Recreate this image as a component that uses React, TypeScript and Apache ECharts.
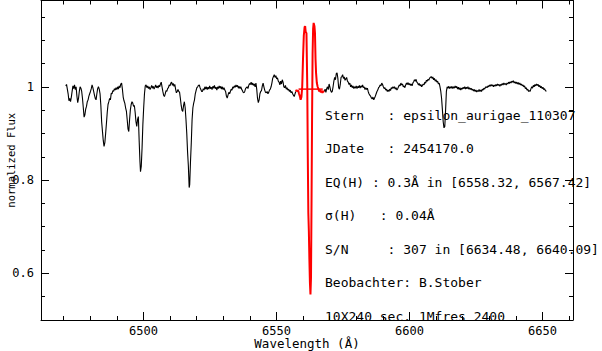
import React, { useEffect, useRef } from "react";
import * as echarts from "echarts";

// ---- axis definitions ----
const xMin = 6461.5;
const xMax = 6661.5;
const yMin = 0.5;
const yMax = 1.185;
const xMajorTicks = [6500, 6550, 6600, 6650];
const xMinorTicks = [6470, 6480, 6490, 6510, 6520, 6530, 6540, 6560, 6570, 6580, 6590, 6610, 6620, 6630, 6640, 6660];
const yMajorTicks = [0.6, 0.8, 1.0];
const yMinorTicks = [0.55, 0.65, 0.7, 0.75, 0.85, 0.9, 0.95, 1.05, 1.1, 1.15];

const xTitle = "Wavelength (Å)";
const yTitle = "normalized Flux";

const infoLines = [
  "Stern   : epsilon_aurigae_110307",
  "JDate   : 2454170.0",
  "EQ(H) : 0.3Å in [6558.32, 6567.42]",
  "σ(H)   : 0.04Å",
  "S/N     : 307 in [6634.48, 6640.09]",
  "Beobachter: B.Stober",
  "10X240 sec. 1Mfres 2400",
];

// ---- spectrum (wavelength Å, normalized flux) ----
const spectrumLeft: [number, number][] = [
  [6470.8,1.002],[6471.1,1.005],[6471.4,0.995],[6471.7,0.985],[6472.0,0.97],[6472.3,0.975],[6472.6,0.968],[6472.9,0.978],
  [6473.2,0.99],[6473.5,1.002],[6473.8,0.996],[6474.1,1.004],[6474.4,0.994],[6474.7,1.0],[6475.0,0.98],[6475.3,0.966],
  [6475.6,0.975],[6475.9,0.99],[6476.2,1.0],[6476.5,0.997],[6476.8,0.99],[6477.1,0.975],[6477.4,0.955],[6477.7,0.935],
  [6478.0,0.94],[6478.3,0.952],[6478.6,0.958],[6478.9,0.968],[6479.2,0.972],[6479.5,0.98],[6479.8,0.985],[6480.1,0.99],
  [6480.4,0.996],[6480.7,1.004],[6481.0,0.998],[6481.3,0.99],[6481.6,0.982],[6481.9,0.975],[6482.2,0.972],[6482.5,0.985],
  [6482.8,0.996],[6483.1,1.0],[6483.4,0.995],[6483.7,0.985],[6484.0,0.96],[6484.3,0.925],[6484.6,0.905],[6484.9,0.885],
  [6485.2,0.872],[6485.5,0.88],[6485.8,0.9],[6486.1,0.922],[6486.4,0.945],[6486.7,0.962],[6487.0,0.968],[6487.3,0.975],
  [6487.6,0.972],[6487.9,0.986],[6488.2,0.985],[6488.5,0.992],[6488.8,0.99],[6489.1,0.996],[6489.4,0.993],[6489.7,0.998],
  [6490.0,0.994],[6490.3,1.0],[6490.6,0.995],[6490.9,1.002],[6491.2,0.998],[6491.5,1.006],[6491.8,1.008],[6492.1,0.995],
  [6492.4,0.978],[6492.7,0.97],[6493.0,0.965],[6493.3,0.955],[6493.6,0.948],[6493.9,0.93],[6494.2,0.91],[6494.5,0.904],
  [6494.8,0.93],[6495.1,0.951],[6495.4,0.962],[6495.7,0.968],[6496.0,0.965],[6496.3,0.958],[6496.6,0.96],[6496.9,0.945],
  [6497.2,0.925],[6497.5,0.915],[6497.8,0.93],[6498.1,0.936],[6498.4,0.885],[6498.7,0.84],[6498.9,0.818],[6499.2,0.83],
  [6499.5,0.87],[6499.8,0.92],[6500.1,0.955],[6500.4,0.985],[6500.7,1.002],[6501.0,1.004],[6501.3,0.998],[6501.6,1.002],
  [6501.9,0.996],[6502.2,1.0],[6502.5,0.994],[6502.8,0.998],[6503.1,1.003],[6503.4,0.997],[6503.7,1.001],[6504.0,0.995],
  [6504.3,0.999],[6504.6,1.004],[6504.9,0.998],[6505.2,1.002],[6505.5,0.997],[6505.8,1.003],[6506.1,1.0],[6506.4,1.006],
  [6506.7,1.01],[6507.0,1.0],[6507.3,0.99],[6507.6,0.982],[6507.9,0.979],[6508.2,0.985],[6508.5,0.992],[6508.8,0.99],
  [6509.1,0.996],[6509.4,0.998],[6509.7,1.004],[6510.0,1.002],[6510.3,1.008],[6510.6,1.01],[6510.9,1.003],[6511.2,1.007],
  [6511.5,1.001],[6511.8,1.005],[6512.1,0.995],[6512.4,0.987],[6512.7,0.99],[6513.0,0.994],[6513.3,0.99],[6513.6,0.988],
  [6513.9,0.975],[6514.2,0.96],[6514.5,0.95],[6514.8,0.947],[6515.1,0.96],[6515.4,0.968],[6515.7,0.955],[6516.0,0.93],
  [6516.3,0.9],[6516.6,0.86],[6516.9,0.83],[6517.2,0.784],[6517.4,0.79],[6517.7,0.84],[6518.0,0.88],[6518.3,0.93],
  [6518.6,0.955],[6518.9,0.965],[6519.2,0.972],[6519.5,0.985],[6519.8,0.992],[6520.1,0.998],[6520.4,1.0],[6520.7,1.003],
  [6521.0,1.004],[6521.3,0.998],[6521.6,0.994],[6521.9,0.99],[6522.2,0.99],[6522.5,0.996],[6522.8,0.993],[6523.1,1.0],
  [6523.4,0.995],[6523.7,1.0],[6524.0,0.994],[6524.3,0.999],[6524.6,0.995],[6524.9,1.002],[6525.2,0.996],[6525.5,0.999],
  [6525.8,0.994],[6526.1,1.001],[6526.4,0.997],[6526.7,1.003],[6527.0,0.996],[6527.3,0.999],[6527.6,0.993],[6527.9,1.0],
  [6528.2,0.996],[6528.5,1.002],[6528.8,0.997],[6529.1,1.001],[6529.4,0.995],[6529.7,1.0],[6530.0,0.994],[6530.3,0.998],
  [6530.6,0.993],[6530.9,0.99],[6531.2,0.98],[6531.5,0.976],[6531.8,0.982],[6532.1,0.988],[6532.4,0.985],[6532.7,0.99],
  [6533.0,0.995],[6533.3,0.993],[6533.6,1.0],[6533.9,0.997],[6534.2,1.002],[6534.5,0.999],[6534.8,1.004],[6535.1,1.0],
  [6535.4,1.003],[6535.7,0.997],[6536.0,1.001],[6536.3,0.996],[6536.6,1.0],[6536.9,0.995],[6537.2,0.992],[6537.5,0.988],
  [6537.8,0.987],[6538.1,0.99],[6538.4,0.996],[6538.7,0.998],[6539.0,1.0],[6539.3,0.996],[6539.6,1.003],[6539.9,1.007],
  [6540.2,1.005],[6540.5,1.01],[6540.8,1.004],[6541.1,1.008],[6541.4,1.003],[6541.7,1.006],[6542.0,1.0],[6542.3,1.008],
  [6542.6,0.995],[6542.9,0.975],[6543.2,0.966],[6543.5,0.972],[6543.8,0.985],[6544.1,0.99],[6544.4,0.992],[6544.7,1.002],
  [6545.0,1.008],[6545.3,1.0],[6545.6,0.993],[6545.9,0.988],[6546.2,0.987],[6546.5,0.99],[6546.8,0.985],[6547.1,0.988],
  [6547.4,0.993],[6547.7,0.995],[6548.0,1.0],[6548.3,1.008],[6548.6,1.018],[6548.9,1.022],[6549.2,1.026],[6549.5,1.02],
  [6549.8,1.024],[6550.1,1.017],[6550.4,1.019],[6550.7,1.012],[6551.0,1.01],[6551.3,1.004],[6551.6,1.012],[6551.9,1.006],
  [6552.2,1.015],[6552.5,1.01],[6552.8,1.0],[6553.1,0.998],[6553.4,1.003],[6553.7,0.995],[6554.0,0.998],[6554.3,0.993],
  [6554.6,0.995],[6554.9,0.99],[6555.2,0.993],[6555.5,0.987],[6555.8,0.99],[6556.1,0.985],[6556.4,0.982],[6556.7,0.979],
  [6557.0,0.985],[6557.3,0.99],
];

const halpha: [number, number][] = [
  [6557.3,0.99],[6557.6,0.993],[6557.9,0.99],[6558.2,0.992],[6558.5,0.985],[6558.8,0.98],[6559.1,0.972],[6559.4,0.978],
  [6559.7,1.0],[6560.0,1.06],[6560.3,1.11],[6560.6,1.128],[6560.8,1.13],[6561.0,1.118],[6561.3,1.115],[6561.6,1.0],
  [6561.8,0.85],[6562.0,0.73],[6562.2,0.69],[6562.4,0.63],[6562.6,0.58],[6562.8,0.555],[6563.0,0.59],[6563.2,0.75],
  [6563.4,0.93],[6563.6,1.07],[6563.8,1.125],[6564.0,1.137],[6564.3,1.13],[6564.5,1.115],[6564.7,1.06],[6564.9,1.03],
  [6565.2,1.008],[6565.5,1.0],[6565.8,0.995],[6566.1,0.99],[6566.4,0.993],[6566.7,0.988],[6567.0,0.992],[6567.3,0.987],
  [6567.6,0.99],[6568.0,0.99],
];

const continuum: [number, number][] = [
  [6558.32, 0.995],
  [6567.42, 0.995],
];

const spectrumRight: [number, number][] = [
  [6568.0,0.99],[6568.3,0.995],[6568.6,0.988],[6568.9,0.996],[6569.2,1.0],[6569.5,0.994],[6569.8,1.006],[6570.1,1.0],
  [6570.4,0.992],[6570.7,0.988],[6571.0,0.99],[6571.3,1.0],[6571.6,1.012],[6571.9,1.02],[6572.2,1.015],[6572.5,1.028],
  [6572.8,1.03],[6573.1,1.018],[6573.4,0.998],[6573.7,0.995],[6574.0,1.005],[6574.3,1.02],[6574.6,1.022],[6574.9,1.026],
  [6575.2,1.018],[6575.5,1.021],[6575.8,1.014],[6576.1,1.017],[6576.4,1.02],[6576.7,1.012],[6577.0,1.01],[6577.3,1.005],
  [6577.6,1.008],[6577.9,1.0],[6578.2,1.004],[6578.5,0.998],[6578.8,1.002],[6579.1,0.996],[6579.4,1.0],[6579.7,0.997],
  [6580.0,1.002],[6580.3,0.996],[6580.6,1.001],[6580.9,0.998],[6581.2,1.003],[6581.5,0.997],[6581.8,1.002],[6582.1,0.999],
  [6582.4,1.004],[6582.7,0.998],[6583.0,1.0],[6583.3,0.994],[6583.6,0.998],[6583.9,0.994],[6584.2,0.997],[6584.5,0.99],
  [6584.8,0.985],[6585.1,0.982],[6585.4,0.98],[6585.7,0.976],[6586.0,0.974],[6586.3,0.978],[6586.6,0.972],[6586.9,0.976],
  [6587.2,0.98],[6587.5,0.985],[6587.8,0.99],[6588.1,0.993],[6588.4,0.998],[6588.7,1.0],[6589.0,1.004],[6589.3,1.002],
  [6589.6,1.008],[6589.9,1.005],[6590.2,1.0],[6590.5,0.996],[6590.8,0.998],[6591.1,0.993],[6591.4,0.995],[6591.7,0.99],
  [6592.0,0.993],[6592.3,0.99],[6592.6,0.995],[6592.9,0.992],[6593.2,0.998],[6593.5,0.996],[6593.8,1.0],[6594.1,0.997],
  [6594.4,1.0],[6594.7,0.995],[6595.0,0.998],[6595.3,0.993],[6595.6,0.996],[6595.9,1.0],[6596.2,1.004],[6596.5,1.002],
  [6596.8,1.008],[6597.1,1.004],[6597.4,1.006],[6597.7,1.0],[6598.0,1.002],[6598.3,0.998],[6598.6,1.004],[6598.9,1.008],
  [6599.2,1.005],[6599.5,1.009],[6599.8,1.004],[6600.1,1.007],[6600.4,1.003],[6600.7,1.006],[6601.0,1.002],[6601.3,1.008],
  [6601.6,1.011],[6601.9,1.015],[6602.2,1.012],[6602.5,1.016],[6602.8,1.01],[6603.1,1.008],[6603.4,1.004],[6603.7,1.007],
  [6604.0,1.002],[6604.3,1.005],[6604.6,1.0],[6604.9,1.003],[6605.2,1.006],[6605.5,1.004],[6605.8,1.01],[6606.1,1.008],
  [6606.4,1.014],[6606.7,1.012],[6607.0,1.016],[6607.3,1.014],[6607.6,1.019],[6607.9,1.02],[6608.2,1.022],[6608.5,1.018],
  [6608.8,1.021],[6609.1,1.015],[6609.4,1.018],[6609.7,1.012],[6610.0,1.015],[6610.3,1.01],[6610.6,1.012],[6610.9,1.006],
  [6611.2,1.008],[6611.5,1.0],[6611.8,0.99],[6612.1,0.975],[6612.4,0.951],[6612.7,0.925],[6613.0,0.912],[6613.3,0.915],
  [6613.6,0.95],[6613.9,0.99],[6614.2,1.0],[6614.5,0.997],[6614.8,1.001],[6615.1,0.996],[6615.4,1.0],[6615.7,0.997],
  [6616.0,1.001],[6616.3,0.996],[6616.6,1.0],[6616.9,0.997],[6617.2,1.002],[6617.5,0.998],[6617.8,1.001],[6618.1,0.995],
  [6618.4,0.999],[6618.7,0.994],[6619.0,0.998],[6619.3,0.993],[6619.6,0.997],[6619.9,0.995],[6620.2,0.999],[6620.5,0.996],
  [6620.8,1.0],[6621.1,0.995],[6621.4,0.999],[6621.7,0.996],[6622.0,1.0],[6622.3,0.995],[6622.6,0.998],[6622.9,0.994],
  [6623.2,0.997],[6623.5,0.993],[6623.8,0.995],[6624.1,0.991],[6624.4,0.994],[6624.7,0.99],[6625.0,0.993],[6625.3,0.989],
  [6625.6,0.992],[6625.9,0.99],[6626.2,0.994],[6626.5,0.99],[6626.8,0.993],[6627.1,0.99],[6627.4,0.995],[6627.7,0.993],
  [6628.0,0.997],[6628.3,0.995],[6628.6,0.999],[6628.9,1.0],[6629.2,0.998],[6629.5,1.002],[6629.8,1.0],[6630.1,1.004],
  [6630.4,1.001],[6630.7,1.005],[6631.0,1.002],[6631.3,1.004],[6631.6,1.0],[6631.9,1.004],[6632.2,1.001],[6632.5,1.005],
  [6632.8,1.002],[6633.1,1.006],[6633.4,1.003],[6633.7,1.005],[6634.0,1.001],[6634.3,1.005],[6634.6,1.003],[6634.9,1.007],
  [6635.2,1.004],[6635.5,1.008],[6635.8,1.005],[6636.1,1.007],[6636.4,1.004],[6636.7,1.008],[6637.0,1.006],[6637.3,1.01],
  [6637.6,1.007],[6637.9,1.011],[6638.2,1.008],[6638.5,1.012],[6638.8,1.01],[6639.1,1.013],[6639.4,1.008],[6639.7,1.011],
  [6640.0,1.007],[6640.3,1.01],[6640.6,1.006],[6640.9,1.009],[6641.2,1.005],[6641.5,1.008],[6641.8,1.004],[6642.1,1.006],
  [6642.4,1.002],[6642.7,1.004],[6643.0,1.0],[6643.3,1.002],[6643.6,0.996],[6643.9,0.998],[6644.2,0.993],[6644.5,0.995],
  [6644.8,0.99],[6645.1,0.992],[6645.4,0.99],[6645.7,0.996],[6646.0,1.0],[6646.3,0.997],[6646.6,1.003],[6646.9,1.0],
  [6647.2,1.005],[6647.5,1.002],[6647.8,1.006],[6648.1,1.003],[6648.4,1.005],[6648.7,1.0],[6649.0,1.003],[6649.3,0.998],
  [6649.6,1.001],[6649.9,0.996],[6650.2,0.999],[6650.5,0.994],[6650.8,0.996],[6651.1,0.992],[6651.5,0.99],
];

const MONO = "'DejaVu Sans Mono', 'Liberation Mono', monospace";

export default function App() {
  const ref = useRef<HTMLDivElement>(null);

  useEffect(() => {
    document.body.style.margin = "0";
    if (!ref.current) return;
    const chart = echarts.init(ref.current, undefined, { renderer: "svg" });

    const lineStyle = { color: "#000", width: 1 };
    const mkX = (pos: "top" | "bottom", ticks: number[], len: number, withLabels: boolean, showLine: boolean) => ({
      type: "value",
      min: xMin,
      max: xMax,
      position: pos,
      axisLine: { show: showLine, onZero: false, lineStyle },
      axisTick: { show: true, inside: true, length: len, customValues: ticks, lineStyle },
      axisLabel: withLabels
        ? {
            show: true,
            customValues: ticks,
            color: "#000",
            fontFamily: MONO,
            fontSize: 12,
            lineHeight: 11,
            margin: 5,
            formatter: (v: number) => String(Math.round(v)),
          }
        : { show: false },
      splitLine: { show: false },
      ...(withLabels
        ? {
            name: xTitle,
            nameLocation: "middle",
            nameGap: 17,
            nameMoveOverlap: false,
            nameTextStyle: { color: "#000", fontFamily: MONO, fontSize: 12.5, lineHeight: 12 },
          }
        : {}),
    });
    const mkY = (pos: "left" | "right", ticks: number[], len: number, withLabels: boolean, showLine: boolean) => ({
      type: "value",
      min: yMin,
      max: yMax,
      position: pos,
      axisLine: { show: showLine, onZero: false, lineStyle },
      axisTick: { show: true, inside: true, length: len, customValues: ticks, lineStyle },
      axisLabel: withLabels
        ? {
            show: true,
            customValues: ticks,
            color: "#000",
            fontFamily: MONO,
            fontSize: 12,
            margin: 7,
            formatter: (v: number) => String(Math.round(v * 100) / 100),
          }
        : { show: false },
      splitLine: { show: false },
      ...(withLabels
        ? {
            name: yTitle,
            nameLocation: "middle",
            nameGap: 25,
            nameMoveOverlap: false,
            nameTextStyle: { color: "#000", fontFamily: MONO, fontSize: 10.5 },
          }
        : {}),
    });

    const lineHeights = [115, 148.5, 182, 215.5, 249, 282.5, 316];

    chart.setOption({
      animation: false,
      backgroundColor: "#fff",
      grid: { left: 41, right: 29, top: 0.5, bottom: 31, containLabel: false, outerBoundsMode: "none" },
      xAxis: [
        mkX("bottom", xMajorTicks, 8, true, true),
        mkX("bottom", xMinorTicks, 4, false, false),
        mkX("top", xMajorTicks, 8, false, true),
        mkX("top", xMinorTicks, 4, false, false),
      ],
      yAxis: [
        mkY("left", yMajorTicks, 8, true, true),
        mkY("left", yMinorTicks, 4, false, false),
        mkY("right", yMajorTicks, 8, false, true),
        mkY("right", yMinorTicks, 4, false, false),
      ],
      series: [
        {
          type: "line",
          data: spectrumLeft,
          showSymbol: false,
          lineStyle: { color: "#000", width: 1.1 },
          silent: true,
        },
        {
          type: "line",
          data: spectrumRight,
          showSymbol: false,
          lineStyle: { color: "#000", width: 1.1 },
          silent: true,
        },
        {
          type: "line",
          data: halpha,
          showSymbol: false,
          lineStyle: { color: "#ff0000", width: 2 },
          silent: true,
          z: 3,
        },
        {
          type: "line",
          data: continuum,
          showSymbol: false,
          lineStyle: { color: "#ff0000", width: 1.5 },
          silent: true,
          z: 3,
        },
      ],
      graphic: infoLines.map((t, i) => ({
        type: "text",
        x: 325,
        y: lineHeights[i],
        z: 10,
        style: {
          text: t,
          fill: "#000",
          font: `13px ${MONO}`,
          align: "left",
          verticalAlign: "middle",
        },
      })),
    });

    return () => chart.dispose();
  }, []);

  return (
    <div
      ref={ref}
      style={{ position: "fixed", left: 0, top: 0, width: 602, height: 351, background: "#fff" }}
    />
  );
}
